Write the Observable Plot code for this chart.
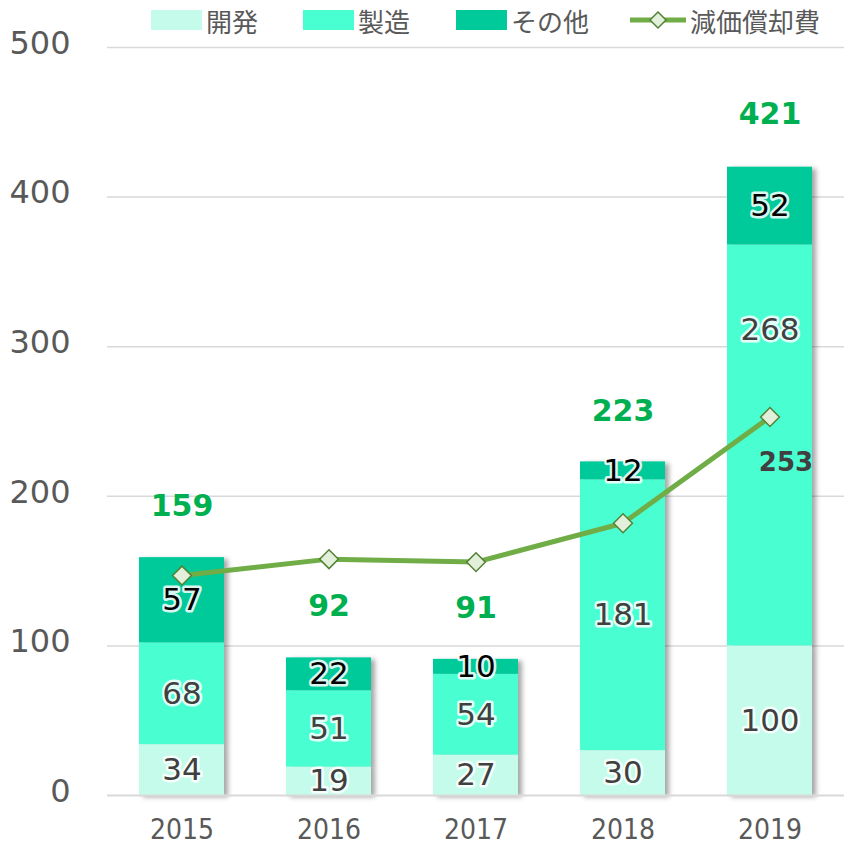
<!DOCTYPE html>
<html>
<head>
<meta charset="utf-8">
<script src="https://cdn.jsdelivr.net/npm/d3@7"></script>
<script src="https://cdn.jsdelivr.net/npm/@observablehq/plot@0.6"></script>
<style>
  body { margin: 0; background: #fff; }
  #legend { position: relative; height: 40px; width: 844px; font-family: "Noto Sans CJK JP", sans-serif; font-size: 26px; color: #595959; }
  #legend .item { position: absolute; top: 1px; display: flex; align-items: center; height: 38px; }
  #legend .sw { width: 51px; height: 20px; margin-right: 4px; }
  #legend svg { margin-right: 4px; }
</style>
</head>
<body>
<div id="legend"></div>
<div id="chart"></div>
<script>
const years = ["2015", "2016", "2017", "2018", "2019"];
const seriesNames = ["開発", "製造", "その他"];
const dev = [34, 19, 27, 30, 100];
const mfg = [68, 51, 54, 181, 268];
const other = [57, 22, 10, 12, 52];
const totals = [159, 92, 91, 223, 421];
const lineName = "減価償却費";
const depreciation = [147, 158, 156, 182, 253];
const yTicks = [0, 100, 200, 300, 400, 500];

const colors = {"開発": "#C4FBEB", "製造": "#48FFD2", "その他": "#00C99A"};
const labelColors = {"開発": "#404040", "製造": "#404040", "その他": "#000000"};

const seriesValues = [dev, mfg, other];
const stacked = [];
seriesNames.forEach((s, si) => years.forEach((y, i) => stacked.push({year: y, series: s, value: seriesValues[si][i]})));
const totalData = years.map((y, i) => ({year: y, total: totals[i]}));
const lineData = years.map((y, i) => ({year: y, value: depreciation[i]}));
// the 2019 製造 label was moved up in the original to clear the line
const isMoved = d => d.year === "2019" && d.series === "製造";

// legend
const legend = document.getElementById("legend");
const legendPos = [151, 303, 456];
seriesNames.forEach((s, i) => {
  const d = document.createElement("div");
  d.className = "item";
  d.style.left = legendPos[i] + "px";
  d.innerHTML = `<div class="sw" style="background:${colors[s]}"></div><span>${s}</span>`;
  legend.appendChild(d);
});
{
  const d = document.createElement("div");
  d.className = "item";
  d.style.left = "630px";
  d.innerHTML = `<svg width="56" height="20"><line x1="0" y1="10" x2="56" y2="10" stroke="#70AD47" stroke-width="5"/><path d="M28,2 L36,10 L28,18 L20,10 Z" fill="#E2EFDA" stroke="#548235" stroke-width="1.5"/></svg><span>${lineName}</span>`;
  legend.appendChild(d);
}

const labelStyle = {stroke: "white", strokeWidth: 5, strokeOpacity: 0.85, fontSize: 31, fontFamily: "DejaVu Sans"};

const chart = Plot.plot({
  width: 844,
  height: 805,
  marginLeft: 107,
  marginRight: 0,
  marginTop: 7,
  marginBottom: 50,
  style: {background: "#fff", overflow: "visible"},
  x: {domain: years, paddingInner: 0.42, paddingOuter: 0.2, label: null, tickSize: 0, tickPadding: 24},
  y: {domain: [0, 500], ticks: yTicks, label: null, tickSize: 0, tickPadding: 37},
  marks: [
    Plot.gridY(yTicks.filter(d => d > 0), {stroke: "#D9D9D9", strokeOpacity: 1, strokeWidth: 1.5}),
    Plot.barY(stacked, {x: "year", y: "value", fill: d => colors[d.series], className: "bars"}),
    Plot.ruleY([0], {stroke: "#D9D9D9", strokeWidth: 2}),
    Plot.line(lineData, {x: "year", y: "value", stroke: "#70AD47", strokeWidth: 5}),
    Plot.dot(lineData, {x: "year", y: "value", symbol: "diamond2", r: 8.5, fill: "#E2EFDA", stroke: "#548235", strokeWidth: 1.5}),
    Plot.text(stacked, Plot.stackY({x: "year", y: "value", z: "series",
      text: d => isMoved(d) ? "" : String(d.value),
      fill: d => labelColors[d.series], ...labelStyle})),
    Plot.text(stacked, Plot.stackY({x: "year", y: "value", z: "series",
      text: d => isMoved(d) ? String(d.value) : "", dy: -115,
      fill: d => labelColors[d.series], ...labelStyle})),
    Plot.text(totalData, {x: "year", y: "total", text: "total", dy: -51, fill: "#00B050",
      fontWeight: "bold", fontSize: 30, fontFamily: "DejaVu Sans"}),
    Plot.text(lineData.slice(-1), {x: "year", y: "value", text: "value", dx: 16, dy: 46, fill: "#404040",
      fontWeight: "bold", fontSize: 26, fontFamily: "DejaVu Sans"})
  ]
});

// styling axes
const svg = d3.select(chart);
svg.selectAll("g[aria-label='y-axis tick label']")
  .attr("font-size", 32).attr("fill", "#595959").attr("font-family", "DejaVu Sans");
svg.selectAll("g[aria-label='y-axis tick label'] text").each(function() {
  const t = d3.select(this);
  const tr = t.attr("transform") || "";
  t.attr("transform", tr + " translate(0,-4)");
});
svg.selectAll("g[aria-label='x-axis tick label']")
  .attr("font-size", 28).attr("fill", "#595959").attr("font-family", "DejaVu Sans Condensed, DejaVu Sans");
const defs = svg.insert("defs", ":first-child");
defs.append("filter").attr("id", "shadow").attr("x", "-20%").attr("y", "-20%").attr("width", "150%").attr("height", "150%")
  .append("feDropShadow").attr("dx", 4).attr("dy", 2).attr("stdDeviation", 2.5)
  .attr("flood-color", "#000").attr("flood-opacity", 0.35);
svg.selectAll(".bars").attr("filter", "url(#shadow)");
document.getElementById("chart").appendChild(chart);
</script>
</body>
</html>
